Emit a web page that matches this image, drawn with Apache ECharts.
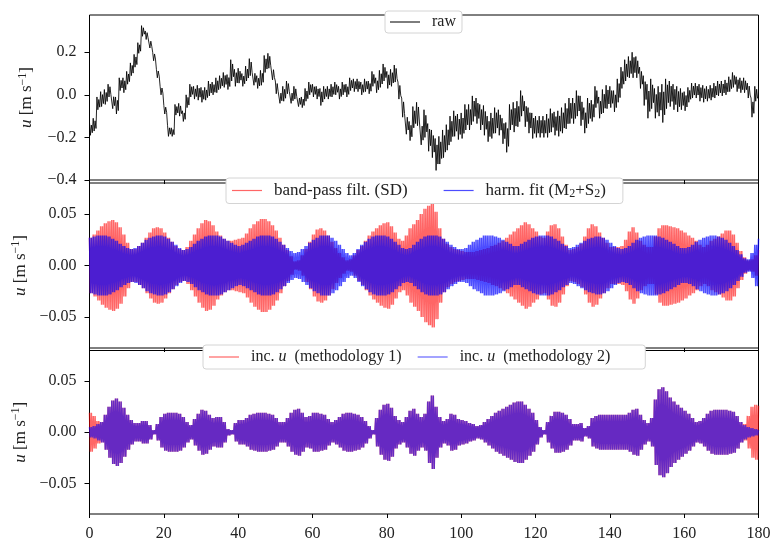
<!DOCTYPE html>
<html><head><meta charset="utf-8">
<script src="https://cdn.jsdelivr.net/npm/echarts@6/dist/echarts.min.js"></script>
<style>html,body{margin:0;padding:0;background:#fff}#c{width:771px;height:538px}</style>
</head><body><div id="c"></div>
<script>
// ---- tick labels ----
const xTicks = [0,20,40,60,80,100,120,140,160,180];
const yTicksTop = [-0.4,-0.2,0,0.2];
const yTicksLow = [-0.05,0,0.05];

// ---- raw series: daily centre value and noise half-spread ----
const rawCenter = [
-0.16,-0.14,-0.04,-0.02,-0.01,0.02,-0.03,-0.05,0.05,0.045,
0.08,0.12,0.16,0.22,0.30,0.28,0.24,0.18,0.10,0.02,
-0.07,-0.17,-0.175,-0.07,-0.07,-0.10,-0.03,0.02,0.01,0.01,
0.0,0.005,0.03,0.03,0.045,0.06,0.07,0.06,0.115,0.08,
0.09,0.07,0.10,0.13,0.08,0.06,0.08,0.145,0.16,0.10,
0.035,-0.01,0.005,0.035,-0.01,0.01,-0.03,-0.035,0.0,0.03,
0.02,0.01,-0.01,0.01,0.01,0.02,0.03,0.01,0.03,0.02,
0.05,0.045,0.045,0.03,0.045,0.035,0.075,0.045,0.075,0.105,
0.07,0.08,0.10,0.02,-0.06,-0.135,-0.17,-0.105,-0.09,-0.18,
-0.135,-0.20,-0.23,-0.28,-0.26,-0.23,-0.20,-0.16,-0.135,-0.15,
-0.145,-0.105,-0.105,-0.065,-0.075,-0.105,-0.12,-0.16,-0.145,-0.12,
-0.13,-0.17,-0.20,-0.105,-0.105,-0.09,-0.04,-0.09,-0.12,-0.145,
-0.15,-0.15,-0.15,-0.145,-0.12,-0.135,-0.135,-0.12,-0.10,-0.075,
-0.075,-0.04,-0.075,-0.12,-0.075,-0.075,-0.01,-0.06,-0.03,-0.01,
-0.01,-0.03,0.02,0.08,0.115,0.13,0.14,0.13,0.08,0.02,
-0.03,0.005,-0.04,-0.03,-0.04,0.005,0.005,-0.01,-0.02,-0.02,
-0.03,0.0,0.02,0.02,0.01,0.005,0.005,0.01,0.02,0.03,
0.03,0.035,0.05,0.07,0.05,0.045,0.045,0.02,-0.06,0.005,
-0.01];
const rawSpread = [
0.03,0.03,0.03,0.035,0.035,0.03,0.035,0.04,0.03,0.035,
0.03,0.03,0.03,0.025,0.025,0.02,0.02,0.02,0.02,0.02,
0.02,0.025,0.02,0.025,0.03,0.025,0.03,0.03,0.03,0.035,
0.035,0.03,0.035,0.03,0.035,0.03,0.035,0.035,0.05,0.04,
0.035,0.03,0.035,0.04,0.035,0.03,0.035,0.04,0.035,0.03,
0.03,0.03,0.035,0.03,0.03,0.03,0.025,0.025,0.03,0.03,
0.03,0.03,0.04,0.03,0.03,0.03,0.03,0.03,0.03,0.03,
0.03,0.03,0.03,0.03,0.03,0.03,0.035,0.035,0.04,0.04,
0.04,0.04,0.04,0.04,0.045,0.05,0.045,0.05,0.055,0.055,
0.065,0.065,0.065,0.075,0.065,0.065,0.06,0.06,0.06,0.06,
0.06,0.06,0.06,0.06,0.06,0.06,0.07,0.06,0.06,0.06,
0.06,0.06,0.07,0.06,0.07,0.06,0.06,0.06,0.06,0.06,
0.05,0.05,0.05,0.055,0.055,0.055,0.06,0.06,0.06,0.06,
0.06,0.06,0.07,0.06,0.06,0.05,0.05,0.05,0.055,0.055,
0.05,0.05,0.055,0.05,0.05,0.05,0.06,0.05,0.05,0.07,
0.08,0.07,0.07,0.07,0.09,0.07,0.06,0.06,0.06,0.05,
0.045,0.035,0.035,0.035,0.04,0.04,0.035,0.035,0.035,0.035,
0.035,0.035,0.035,0.035,0.035,0.035,0.035,0.035,0.045,0.035,
0.03];

// ---- oscillation envelopes (daily amplitude, m/s) ----
const bandpassAmp = [
0.027,0.030,0.034,0.038,0.041,0.043,0.044,0.042,0.037,0.030,
0.022,0.016,0.016,0.019,0.022,0.027,0.032,0.036,0.037,0.036,
0.032,0.027,0.023,0.019,0.016,0.015,0.018,0.024,0.030,0.036,
0.041,0.044,0.043,0.039,0.033,0.029,0.026,0.024,0.024,0.025,
0.026,0.027,0.031,0.036,0.040,0.043,0.045,0.045,0.043,0.039,
0.034,0.027,0.020,0.015,0.009,0.004,0.005,0.010,0.016,0.023,
0.030,0.035,0.036,0.034,0.029,0.023,0.017,0.012,0.008,0.005,
0.006,0.010,0.015,0.019,0.024,0.029,0.033,0.036,0.039,0.041,
0.042,0.038,0.032,0.026,0.024,0.029,0.036,0.040,0.044,0.050,
0.055,0.058,0.060,0.052,0.036,0.026,0.021,0.018,0.016,0.015,
0.014,0.013,0.013,0.013,0.014,0.015,0.016,0.017,0.019,0.020,
0.022,0.024,0.027,0.030,0.033,0.036,0.039,0.042,0.040,0.036,
0.033,0.028,0.027,0.033,0.039,0.040,0.036,0.028,0.020,0.015,
0.016,0.018,0.021,0.028,0.036,0.040,0.038,0.032,0.027,0.022,
0.018,0.018,0.018,0.019,0.025,0.033,0.037,0.032,0.024,0.020,
0.018,0.018,0.028,0.036,0.039,0.039,0.038,0.037,0.036,0.034,
0.032,0.029,0.027,0.024,0.020,0.018,0.020,0.024,0.026,0.028,
0.031,0.034,0.034,0.030,0.022,0.014,0.008,0.005,0.006,0.010,
0.015];
const harmAmp = [
0.027,0.028,0.029,0.029,0.029,0.028,0.026,0.024,0.021,0.019,
0.017,0.016,0.017,0.019,0.022,0.025,0.027,0.028,0.029,0.029,
0.028,0.026,0.023,0.020,0.017,0.015,0.016,0.018,0.021,0.024,
0.026,0.028,0.029,0.029,0.029,0.028,0.026,0.024,0.022,0.020,
0.019,0.020,0.022,0.024,0.026,0.028,0.029,0.029,0.029,0.028,
0.026,0.023,0.020,0.017,0.014,0.012,0.013,0.016,0.019,0.022,
0.025,0.027,0.029,0.029,0.029,0.027,0.024,0.020,0.016,0.012,
0.010,0.012,0.016,0.020,0.023,0.026,0.028,0.029,0.029,0.029,
0.028,0.026,0.023,0.020,0.017,0.016,0.017,0.020,0.023,0.026,
0.028,0.029,0.029,0.029,0.028,0.026,0.023,0.020,0.018,0.016,
0.016,0.017,0.020,0.023,0.025,0.027,0.029,0.029,0.029,0.028,
0.027,0.025,0.023,0.021,0.019,0.019,0.021,0.023,0.025,0.027,
0.028,0.029,0.029,0.029,0.028,0.026,0.024,0.021,0.019,0.017,
0.018,0.020,0.022,0.024,0.026,0.027,0.028,0.028,0.027,0.025,
0.022,0.019,0.017,0.016,0.017,0.019,0.022,0.025,0.027,0.028,
0.029,0.029,0.029,0.028,0.027,0.025,0.023,0.021,0.019,0.017,
0.017,0.018,0.020,0.023,0.025,0.027,0.028,0.029,0.029,0.028,
0.027,0.025,0.022,0.019,0.015,0.011,0.007,0.006,0.012,0.020,
0.026];
const incM1Amp = [
0.019,0.016,0.011,0.010,0.017,0.025,0.031,0.033,0.030,0.024,
0.017,0.012,0.009,0.009,0.011,0.011,0.007,0.002,0.008,0.015,
0.018,0.019,0.019,0.019,0.018,0.015,0.010,0.007,0.013,0.018,
0.022,0.021,0.017,0.014,0.015,0.015,0.010,0.003,0.002,0.009,
0.012,0.012,0.014,0.017,0.018,0.019,0.019,0.019,0.018,0.017,
0.014,0.010,0.010,0.014,0.019,0.022,0.023,0.019,0.015,0.016,
0.019,0.019,0.018,0.017,0.013,0.010,0.012,0.015,0.018,0.019,
0.019,0.018,0.017,0.015,0.011,0.006,0.002,0.014,0.022,0.027,
0.028,0.024,0.016,0.012,0.010,0.015,0.021,0.023,0.018,0.015,
0.018,0.030,0.036,0.025,0.015,0.011,0.013,0.018,0.017,0.013,
0.012,0.011,0.009,0.008,0.006,0.007,0.010,0.013,0.016,0.019,
0.021,0.023,0.025,0.027,0.029,0.030,0.030,0.027,0.023,0.019,
0.012,0.005,0.002,0.010,0.016,0.020,0.020,0.019,0.017,0.013,
0.008,0.008,0.009,0.004,0.006,0.014,0.016,0.017,0.017,0.017,
0.017,0.017,0.017,0.017,0.017,0.019,0.022,0.023,0.017,0.012,
0.009,0.014,0.032,0.042,0.044,0.040,0.034,0.030,0.027,0.024,
0.021,0.018,0.014,0.010,0.011,0.014,0.018,0.021,0.022,0.022,
0.022,0.022,0.021,0.020,0.016,0.010,0.008,0.016,0.025,0.027,
0.026];
const incM2Amp = [
0.005,0.006,0.008,0.010,0.017,0.025,0.031,0.033,0.030,0.024,
0.017,0.012,0.009,0.009,0.011,0.011,0.007,0.002,0.008,0.015,
0.018,0.019,0.019,0.019,0.018,0.015,0.010,0.007,0.013,0.018,
0.022,0.021,0.017,0.014,0.015,0.015,0.010,0.003,0.002,0.009,
0.012,0.012,0.014,0.017,0.018,0.019,0.019,0.019,0.018,0.017,
0.014,0.010,0.010,0.014,0.019,0.022,0.023,0.019,0.015,0.016,
0.019,0.019,0.018,0.017,0.013,0.010,0.012,0.015,0.018,0.019,
0.019,0.018,0.017,0.015,0.011,0.006,0.002,0.014,0.022,0.027,
0.028,0.024,0.016,0.012,0.010,0.015,0.021,0.023,0.018,0.015,
0.018,0.030,0.036,0.025,0.015,0.011,0.013,0.018,0.017,0.013,
0.012,0.011,0.009,0.008,0.006,0.007,0.010,0.013,0.016,0.019,
0.021,0.023,0.025,0.027,0.029,0.030,0.030,0.027,0.023,0.019,
0.012,0.005,0.002,0.010,0.016,0.020,0.020,0.019,0.017,0.013,
0.008,0.008,0.009,0.004,0.006,0.014,0.016,0.017,0.017,0.017,
0.017,0.017,0.017,0.017,0.017,0.019,0.022,0.023,0.017,0.012,
0.009,0.014,0.032,0.042,0.044,0.040,0.034,0.030,0.027,0.024,
0.021,0.018,0.014,0.010,0.011,0.014,0.018,0.021,0.022,0.022,
0.022,0.022,0.021,0.020,0.016,0.010,0.007,0.005,0.004,0.003,
0.002];

// ---- build line data (noise band / semidiurnal carrier inside the read envelopes) ----
function rawPoints(c, s) {
  const p = [];
  for (let d = 0; d < c.length - 1; d++) {
    p.push([d, c[d] + s[d]], [d + 0.25, c[d] - s[d]], [d + 0.5, c[d] + s[d] * 0.6], [d + 0.75, c[d] - s[d] * 0.6]);
  }
  p.push([c.length - 1, c[c.length - 1]]);
  return p;
}
function oscPoints(a) {
  const p = [];
  for (let d = 0; d < a.length - 1; d++) {
    p.push([d, a[d]], [d + 0.25, -a[d]], [d + 0.5, a[d]], [d + 0.75, -a[d]]);
  }
  p.push([a.length - 1, a[a.length - 1]]);
  return p;
}

const FONT = "'Liberation Serif','DejaVu Serif',serif";
const TXT = '#222';
function fmt(dec) { return v => (v < 0 ? '\u2212' : '') + Math.abs(v).toFixed(dec); }

const L = 89.5, W = 669;
const grids = [
  {left: L, top: 15, width: W, height: 165},
  {left: L, top: 183, width: W, height: 165},
  {left: L, top: 350.5, width: W, height: 163.5}
].map(g => Object.assign(g, {show: true, borderColor: '#000', borderWidth: 1, backgroundColor: 'transparent',
  containLabel: false, outerBoundsMode: 'none'}));

function xAx(i, labels) {
  return {type: 'value', gridIndex: i, min: 0, max: 180, interval: 20,
    axisLine: {show: false, onZero: false}, splitLine: {show: false},
    axisTick: {show: true, length: 4, lineStyle: {color: '#000', width: 1}},
    axisLabel: {show: labels, fontFamily: FONT, fontSize: 16, color: TXT, margin: 12}};
}
const nameRich = {
  i: {fontFamily: FONT, fontSize: 17, fontStyle: 'italic', color: TXT, lineHeight: 20},
  n: {fontFamily: FONT, fontSize: 17, color: TXT, lineHeight: 20},
  sup: {fontFamily: FONT, fontSize: 12, color: TXT, lineHeight: 12, verticalAlign: 'top'}
};
function yAx(i, min, max, ticks, dec) {
  return {type: 'value', gridIndex: i, min: min, max: max,
    axisLine: {show: false, onZero: false}, splitLine: {show: false},
    axisTick: {show: true, length: 5, lineStyle: {color: '#000', width: 1}, customValues: ticks},
    axisLabel: {customValues: ticks, formatter: fmt(dec), fontFamily: FONT, fontSize: 16, color: TXT, margin: 13},
    name: '{i|u}{n| [m s}{sup|\u22121}{n|]}', nameLocation: 'middle', nameGap: 53, nameRotate: 90,
    nameTextStyle: {fontFamily: FONT, fontSize: 17, color: TXT, rich: nameRich}};
}

const legendText = {
  'raw': '{n|raw}',
  'band-pass filt. (SD)': '{n|band-pass filt. (SD)}',
  'harm. fit (M2+S2)': '{n|harm. fit (M}{sub|2}{n|+S}{sub|2}{n|)}',
  'inc. u (methodology 1)': '{n|inc. }{i|u}{n|  (methodology 1)}',
  'inc. u (methodology 2)': '{n|inc. }{i|u}{n|  (methodology 2)}'
};
function legRich(fs) {
  return {
    n: {fontFamily: FONT, fontSize: fs, color: TXT, lineHeight: 18},
    i: {fontFamily: FONT, fontSize: fs, fontStyle: 'italic', color: TXT, lineHeight: 18},
    sub: {fontFamily: FONT, fontSize: fs - 5, color: TXT, lineHeight: 11, verticalAlign: 'bottom'}
  };
}
function leg(data, left, top, gap, pad, fs) {
  return {data: data, left: left, top: top, orient: 'horizontal', itemGap: gap,
    icon: 'rect', itemWidth: 30, itemHeight: 1.2, padding: pad,
    backgroundColor: '#fff', borderColor: '#d4d4d4', borderWidth: 1, borderRadius: 3,
    formatter: n => legendText[n],
    textStyle: {fontFamily: FONT, fontSize: fs, color: TXT, padding: [0, 0, 0, 7], rich: legRich(fs)}};
}

function lineSeries(name, xi, data, color, op, w) {
  return {type: 'line', name: name, xAxisIndex: xi, yAxisIndex: xi, data: data,
    symbol: 'none', showSymbol: false, silent: true,
    lineStyle: {color: color, width: w, opacity: op}, itemStyle: {color: color, opacity: op}};
}

const chart = echarts.init(document.getElementById('c'), null, {renderer: 'canvas'});
chart.setOption({
  animation: false,
  backgroundColor: '#fff',
  textStyle: {fontFamily: FONT},
  grid: grids,
  xAxis: [xAx(0, false), xAx(1, false), xAx(2, true)],
  yAxis: [yAx(0, -0.4, 0.375, yTicksTop, 1), yAx(1, -0.08, 0.08, yTicksLow, 2), yAx(2, -0.08, 0.08, yTicksLow, 2)],
  legend: [
    leg(['raw'], 385, 11, 20, [3, 6, 3, 5], 16),
    leg(['band-pass filt. (SD)', 'harm. fit (M2+S2)'], 226, 178, 36, [4, 17, 4, 6], 17),
    leg(['inc. u (methodology 1)', 'inc. u (methodology 2)'], 203, 345, 16, [4, 35, 4, 6], 16)
  ],
  series: [
    lineSeries('raw', 0, rawPoints(rawCenter, rawSpread), '#000', 0.85, 1),
    lineSeries('band-pass filt. (SD)', 1, oscPoints(bandpassAmp), '#ff0000', 0.6, 1.5),
    lineSeries('harm. fit (M2+S2)', 1, oscPoints(harmAmp), '#0000ff', 0.7, 1.5),
    lineSeries('inc. u (methodology 1)', 2, oscPoints(incM1Amp), '#ff0000', 0.6, 1.5),
    lineSeries('inc. u (methodology 2)', 2, oscPoints(incM2Amp), '#0000ff', 0.6, 1.5)
  ]
});
</script></body></html>
